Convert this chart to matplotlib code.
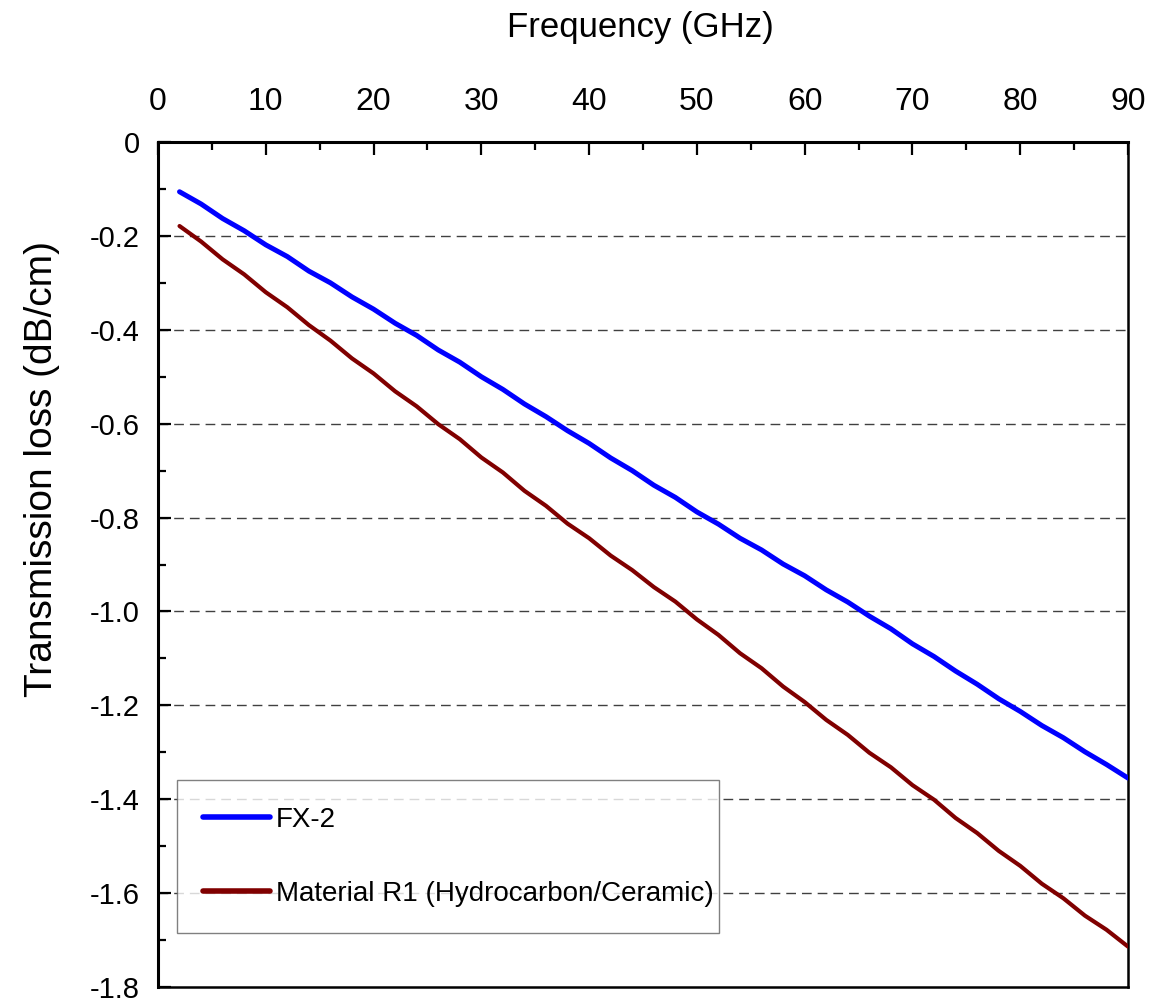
import matplotlib
matplotlib.use("Agg")
import matplotlib.pyplot as plt
from matplotlib.ticker import MultipleLocator

plt.rcParams['font.family'] = ['Liberation Sans', 'DejaVu Sans']

# Frequency sweep (GHz)
freq_ghz = [2, 4, 6, 8, 10, 12, 14, 16, 18, 20, 22, 24, 26, 28, 30, 32, 34, 36, 38, 40,
            42, 44, 46, 48, 50, 52, 54, 56, 58, 60, 62, 64, 66, 68, 70, 72, 74, 76, 78, 80,
            82, 84, 86, 88, 90]

# Transmission loss (dB/cm)
loss_fx2 = [-0.106, -0.132, -0.163, -0.189, -0.219, -0.244, -0.275, -0.300, -0.330, -0.356,
            -0.386, -0.412, -0.443, -0.469, -0.500, -0.527, -0.558, -0.585, -0.615, -0.642,
            -0.673, -0.700, -0.731, -0.757, -0.788, -0.814, -0.844, -0.869, -0.899, -0.924,
            -0.954, -0.980, -1.010, -1.037, -1.069, -1.096, -1.127, -1.155, -1.186, -1.213,
            -1.243, -1.269, -1.299, -1.326, -1.355]
loss_r1 = [-0.179, -0.212, -0.250, -0.282, -0.320, -0.352, -0.390, -0.423, -0.461, -0.493,
           -0.531, -0.563, -0.601, -0.633, -0.672, -0.704, -0.743, -0.775, -0.813, -0.844,
           -0.881, -0.912, -0.948, -0.979, -1.017, -1.050, -1.089, -1.121, -1.160, -1.193,
           -1.231, -1.263, -1.301, -1.332, -1.370, -1.401, -1.440, -1.472, -1.510, -1.542,
           -1.580, -1.611, -1.648, -1.678, -1.714]

series_labels = ["FX-2", "Material R1 (Hydrocarbon/Ceramic)"]
x_ticks = [0, 10, 20, 30, 40, 50, 60, 70, 80, 90]
y_ticks = [0, -0.2, -0.4, -0.6, -0.8, -1.0, -1.2, -1.4, -1.6, -1.8]
y_tick_labels = ["0", "-0.2", "-0.4", "-0.6", "-0.8", "-1.0", "-1.2", "-1.4", "-1.6", "-1.8"]

fig = plt.figure(figsize=(11.59, 10.05), dpi=100)
ax = fig.add_axes([0.1363, 0.0179, 0.8370, 0.8408])

ax.plot(freq_ghz, loss_fx2, color='#0000ff', lw=3.6, label=series_labels[0],
        solid_capstyle='round', zorder=3)
ax.plot(freq_ghz, loss_r1, color='#800000', lw=3.0, label=series_labels[1],
        solid_capstyle='round', zorder=3)

ax.set_xlim(0, 90)
ax.set_ylim(-1.8, 0)

# frequency axis runs along the top edge
ax.xaxis.set_label_position('top')
ax.xaxis.tick_top()
ax.set_xticks(x_ticks)
ax.xaxis.set_minor_locator(MultipleLocator(5))
ax.set_yticks(y_ticks)
ax.set_yticklabels(y_tick_labels)
ax.yaxis.set_minor_locator(MultipleLocator(0.1))

ax.tick_params(axis='x', which='both', direction='in', top=True, bottom=False,
               labelsize=23, pad=18, width=1.6)
ax.tick_params(axis='y', which='both', direction='in', left=True, right=False,
               labelsize=21, pad=13, width=1.6)
ax.tick_params(which='major', length=9)
ax.tick_params(which='minor', length=6)

ax.set_xlabel("Frequency (GHz)", fontsize=25, va='center')
ax.xaxis.set_label_coords(0.497, 1.135)
ax.set_ylabel("Transmission loss (dB/cm)", fontsize=28, va='center')
ax.yaxis.set_label_coords(-0.120, 0.613)

for side in ['left', 'top']:
    ax.spines[side].set_linewidth(2.2)
for side in ['right', 'bottom']:
    ax.spines[side].set_linewidth(1.8)

# dashed reference lines at interior major ticks
for yv in y_ticks[1:-1]:
    ax.axhline(yv, color='#404040', lw=1.0, ls=(0, (7, 4.3)), zorder=1)

leg = ax.legend(loc='lower left', bbox_to_anchor=(0.0196, 0.0637, 0.5588, 0.2),
                mode='expand', fontsize=20, frameon=True, fancybox=False, shadow=False,
                handlelength=2.4, handletextpad=0.2, labelspacing=1.73, borderpad=0.95,
                borderaxespad=0)
leg.get_frame().set_edgecolor('#606060')
leg.get_frame().set_linewidth(1.0)
leg.set_zorder(5)
for ln in leg.get_lines():
    ln.set_linewidth(4.0)

fig.savefig("out.png", dpi=100)
